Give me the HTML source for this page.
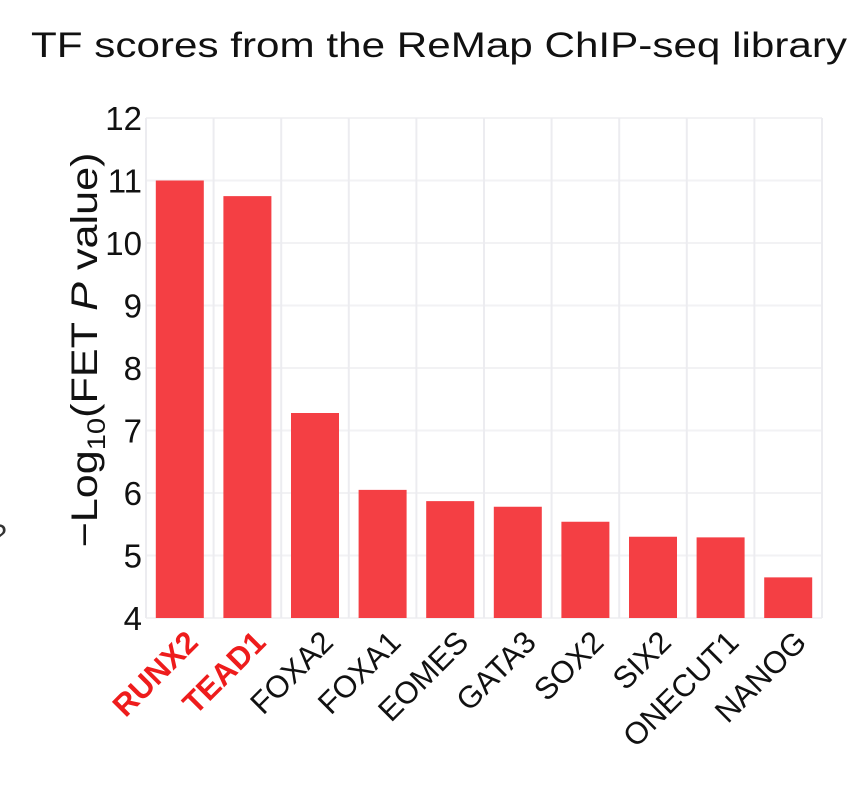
<!DOCTYPE html>
<html><head><meta charset="utf-8"><style>
body{margin:0;background:#fff;width:866px;height:800px;overflow:hidden;font-family:"Liberation Sans",Arial,sans-serif}
</style></head><body>
<svg id="c" width="866" height="800" xmlns="http://www.w3.org/2000/svg">
<text x="439" y="57" font-size="35" textLength="816" lengthAdjust="spacingAndGlyphs" text-anchor="middle" fill="#111">TF scores from the ReMap ChIP-seq library</text>
<text transform="translate(97,350) rotate(-90)" font-size="37" textLength="395" lengthAdjust="spacingAndGlyphs" text-anchor="middle" fill="#111">−Log<tspan font-size="25" dy="8">10</tspan><tspan dy="-8">(FET </tspan><tspan font-style="italic">P</tspan> value)</text>
<text x="-10" y="545" font-size="30" fill="#333">?</text>
<g id="grid"></g><g id="bars"></g><g id="yt"></g><g id="xt"></g>
</svg>
<script>
const categories=["RUNX2","TEAD1","FOXA2","FOXA1","EOMES","GATA3","SOX2","SIX2","ONECUT1","NANOG"];
const values=[11.0,10.75,7.28,6.05,5.87,5.78,5.54,5.3,5.29,4.65];
const highlighted=["RUNX2","TEAD1"];
const yTicks=[4,5,6,7,8,9,10,11,12];
const NS="http://www.w3.org/2000/svg";
const L=146,R=822,T=118,B=618,ymin=4,ymax=12;
const band=(R-L)/categories.length;
const y=v=>B-(v-ymin)/(ymax-ymin)*(B-T);
const x=i=>L+i*band;
function mk(t,a,p){const e=document.createElementNS(NS,t);for(const k in a)e.setAttribute(k,a[k]);p.appendChild(e);return e;}
const g=document.getElementById('grid'),b=document.getElementById('bars'),yt=document.getElementById('yt'),xt=document.getElementById('xt');
yTicks.forEach(v=>{
 const l=mk('line',{x1:L,x2:R,y1:y(v),y2:y(v),stroke:'#f2f2f4','stroke-width':2},g);
 
 
 const t=mk('text',{x:L-4,y:y(v)+12,'font-size':33,'text-anchor':'end',fill:'#111'},yt);t.textContent=v;
 
 
});
for(let i=0;i<=categories.length;i++){
 const l=mk('line',{x1:x(i),x2:x(i),y1:T,y2:B,stroke:'#ececf0','stroke-width':2},g);
 
 
}
categories.forEach((c,i)=>{
 const bw=48,bx=x(i)+(band-bw)/2;
 const r=mk('rect',{x:bx,y:y(values[i]),width:bw,height:B-y(values[i]),fill:'#f43f44'},b);
 
 
 const cx=x(i)+band/2+20,cy=B+26;
 const hl=highlighted.includes(c);
 const t=mk('text',{x:cx,y:cy,'font-size':31,'text-anchor':'end',fill:hl?'#ee1c1c':'#111','font-weight':hl?'bold':'normal',transform:`rotate(-45 ${cx} ${cy})`},xt);
 t.textContent=c;
 
 
});
</script>
</body></html>
